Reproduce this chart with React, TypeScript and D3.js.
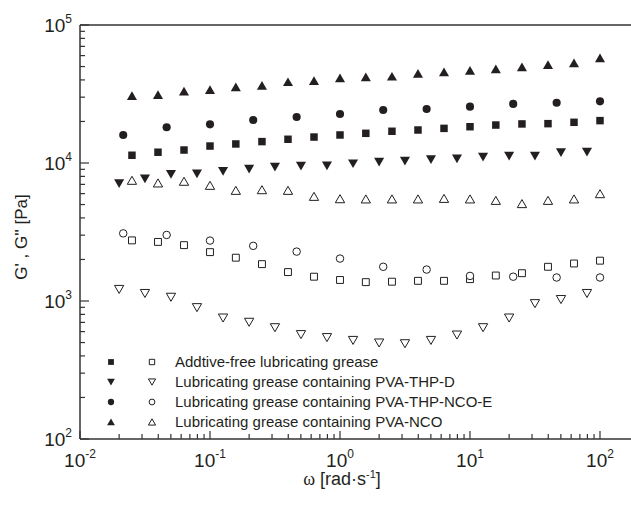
import React from "react";
import * as d3 from "d3";

// frequency grids (rad/s)
const omegaA = [0.0251, 0.0398, 0.0631, 0.1, 0.158, 0.251, 0.398, 0.631, 1, 1.58, 2.51, 3.98, 6.31, 10, 15.8, 25.1, 39.8, 63.1, 100];
const omegaB = [0.02, 0.0316, 0.0501, 0.0794, 0.126, 0.2, 0.316, 0.501, 0.794, 1.26, 2, 3.16, 5.01, 7.94, 12.6, 20, 31.6, 50.1, 79.4];
const omegaC = [0.0215, 0.0464, 0.1, 0.215, 0.464, 1, 2.15, 4.64, 10, 21.5, 46.4, 100];

// Additive-free
const freeG1 = [11380, 11970, 12420, 13270, 13740, 14290, 14860, 15420, 15960, 16410, 16980, 17340, 17820, 18320, 18840, 19190, 19280, 19720, 20280];
const freeG2 = [2750, 2680, 2540, 2260, 2060, 1850, 1620, 1500, 1420, 1370, 1380, 1400, 1400, 1440, 1530, 1590, 1770, 1870, 1960];
// PVA-THP-D
const thpdG1 = [7130, 7740, 8320, 8410, 8750, 9100, 9400, 9550, 9620, 9950, 10230, 10400, 10640, 10810, 11120, 11300, 11300, 11970, 12080];
const thpdG2 = [1220, 1140, 1070, 900, 757, 705, 644, 574, 546, 521, 499, 493, 521, 570, 644, 757, 962, 1030, 1140];
// PVA-THP-NCO-E
const thpncoG1 = [15960, 18160, 19050, 20510, 21530, 22650, 24210, 24600, 25590, 26790, 27350, 27990];
const thpncoG2 = [3090, 3010, 2740, 2510, 2280, 2030, 1770, 1690, 1520, 1500, 1480, 1480];
// PVA-NCO
const ncoG1 = [30600, 31100, 32900, 33800, 35400, 36300, 38500, 39300, 41100, 41800, 42200, 44200, 45400, 46500, 47800, 49300, 51300, 52700, 57400];
const ncoG2 = [7450, 7130, 7330, 6850, 6300, 6370, 6300, 5700, 5480, 5460, 5460, 5460, 5510, 5460, 5330, 5050, 5330, 5460, 5960];

const legendLabels = [
  "Addtive-free lubricating grease",
  "Lubricating grease containing PVA-THP-D",
  "Lubricating grease containing PVA-THP-NCO-E",
  "Lubricating grease containing PVA-NCO",
];
const xTickExps = [-2, -1, 0, 1, 2];
const yTickExps = [2, 3, 4, 5];

type Shape = "square" | "down" | "circle" | "up";

const series: { x: number[]; y: number[]; shape: Shape; filled: boolean }[] = [
  { x: omegaA, y: freeG1, shape: "square", filled: true },
  { x: omegaA, y: freeG2, shape: "square", filled: false },
  { x: omegaB, y: thpdG1, shape: "down", filled: true },
  { x: omegaB, y: thpdG2, shape: "down", filled: false },
  { x: omegaC, y: thpncoG1, shape: "circle", filled: true },
  { x: omegaC, y: thpncoG2, shape: "circle", filled: false },
  { x: omegaA, y: ncoG1, shape: "up", filled: true },
  { x: omegaA, y: ncoG2, shape: "up", filled: false },
];

const legendShapes: Shape[] = ["square", "down", "circle", "up"];

const INK = "#231f20";
const FONT = "'Liberation Sans', Arial, sans-serif";

function symbolPath(shape: Shape, scale: number) {
  if (shape === "square") return d3.symbol(d3.symbolSquare, 56 * scale)()!;
  if (shape === "circle") return d3.symbol(d3.symbolCircle, 52 * scale)()!;
  return d3.symbol(d3.symbolTriangle, 44 * scale)()!;
}

function Marker({ shape, filled, x, y, scale = 1 }: { shape: Shape; filled: boolean; x: number; y: number; scale?: number }) {
  const openScale = filled ? 1 : 0.85;
  const d = symbolPath(shape, scale * openScale);
  const rot = shape === "down" ? 180 : 0;
  const dy = shape === "up" ? 1 : shape === "down" ? -1 : 0;
  return (
    <path
      d={d}
      transform={`translate(${x},${y + dy}) rotate(${rot})`}
      fill={filled ? INK : "#fff"}
      stroke={INK}
      strokeWidth={filled ? 0 : 1}
    />
  );
}

export default function App() {
  const W = 631, H = 507;
  const x = d3.scaleLog().domain([0.01, 100]).range([80, 600]);
  const y = d3.scaleLog().domain([100, 100000]).range([439, 25]);
  const left = 80, right = 640, top = 25, bottom = 439;

  const xMinor: number[] = [];
  for (let e = -2; e < 2; e++) for (let k = 2; k <= 9; k++) xMinor.push(k * Math.pow(10, e));
  const yMinor: number[] = [];
  for (let e = 2; e < 5; e++) for (let k = 2; k <= 9; k++) yMinor.push(k * Math.pow(10, e));

  return (
    <svg width={W} height={H} style={{ position: "absolute", left: 0, top: 0 }} fontFamily={FONT}>
      <rect width={W} height={H} fill="#fff" />
      {/* axes lines */}
      <line x1={left} x2={right} y1={top} y2={top} stroke="#333" strokeWidth={1.5} />
      <line x1={left} x2={right} y1={bottom} y2={bottom} stroke="#333" strokeWidth={1.5} />
      <line x1={left} x2={left} y1={top} y2={bottom} stroke="#333" strokeWidth={1.5} />
      {/* x ticks */}
      {xTickExps.map((e) => (
        <line key={"xM" + e} x1={x(Math.pow(10, e))} x2={x(Math.pow(10, e))} y1={bottom} y2={bottom - 8} stroke="#333" strokeWidth={1.2} />
      ))}
      {xMinor.map((v, i) => (
        <line key={"xm" + i} x1={x(v)} x2={x(v)} y1={bottom} y2={bottom - 5} stroke="#333" strokeWidth={1.2} />
      ))}
      {/* y ticks */}
      {yTickExps.map((e) => (
        <line key={"yM" + e} x1={left} x2={left + 9} y1={y(Math.pow(10, e))} y2={y(Math.pow(10, e))} stroke="#333" strokeWidth={1.2} />
      ))}
      {yMinor.map((v, i) => (
        <line key={"ym" + i} x1={left} x2={left + 5} y1={y(v)} y2={y(v)} stroke="#333" strokeWidth={1.2} />
      ))}
      {/* x tick labels */}
      {xTickExps.map((e) => (
        <text key={"xl" + e} x={x(Math.pow(10, e))} y={467} textAnchor="middle" fontSize={19} fill={INK}>
          10<tspan dy={-9} fontSize={12}>{e}</tspan>
        </text>
      ))}
      {/* y tick labels */}
      {yTickExps.map((e) => (
        <text key={"yl" + e} x={left - 8} y={y(Math.pow(10, e)) + 7} textAnchor="end" fontSize={19} fill={INK}>
          10<tspan dy={-9} fontSize={12}>{e}</tspan>
        </text>
      ))}
      {/* axis titles */}
      <text x={342} y={485} textAnchor="middle" fontSize={18} fill={INK}>
        <tspan fontFamily="'Liberation Serif', serif">ω</tspan> [rad·s<tspan dy={-7} fontSize={11}>-1</tspan><tspan dy={7}>]</tspan>
      </text>
      <text transform="translate(27,237) rotate(-90)" textAnchor="middle" fontSize={17} fill={INK}>
        G' , G'' [Pa]
      </text>
      {/* data */}
      {series.map((s, si) =>
        s.x.map((xv, i) => (
          <Marker key={si + "-" + i} shape={s.shape} filled={s.filled} x={x(xv)} y={y(s.y[i])} />
        ))
      )}
      {/* legend */}
      {legendLabels.map((lab, i) => {
        const ly = 362 + i * 20;
        return (
          <g key={"lg" + i}>
            <Marker shape={legendShapes[i]} filled={true} x={111} y={ly} scale={0.6} />
            <Marker shape={legendShapes[i]} filled={false} x={152} y={ly} scale={0.6} />
            <text x={175} y={ly + 5} fontSize={15} fill={INK}>{lab}</text>
          </g>
        );
      })}
    </svg>
  );
}
